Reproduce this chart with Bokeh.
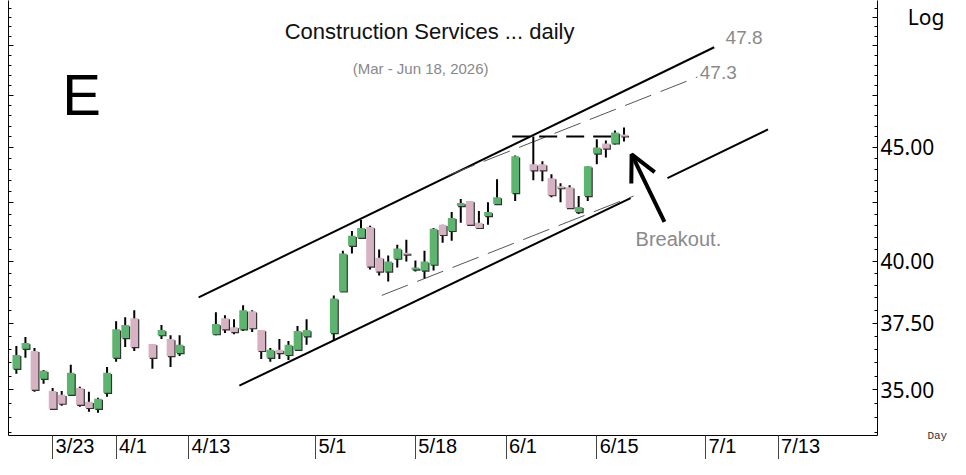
import math
from bokeh.plotting import figure
from bokeh.models import Range1d, FixedTicker, LogAxis, Label, Arrow, OpenHead, ColumnDataSource
from bokeh.embed import file_html
from bokeh.resources import INLINE

# ---- data (x = trading-day index) ----
day_idx = [0, 1, 2, 3, 4, 5, 6, 7, 8, 9, 10, 11, 12, 13, 15, 16, 17, 18,
           22, 23, 24, 25, 26, 27, 28, 29, 30, 31, 32, 35, 36, 37, 38, 39,
           40, 41, 42, 43, 44, 45, 46, 47, 48, 49, 50, 51, 52, 53, 55, 57,
           58, 59, 60, 61, 62, 63, 64, 65, 66, 67]
opens = [35.77, 36.52, 36.44, 35.40, 34.96, 34.82, 34.82, 35.07, 34.57, 34.32, 34.89, 36.18, 36.93, 37.70, 36.70, 37.04, 36.89, 36.36,
         37.08, 37.70, 37.35, 37.27, 37.97, 37.24, 36.18, 36.48, 36.29, 36.48, 37.00, 37.12, 38.76, 40.64, 40.98, 41.44,
         40.14, 39.57, 40.10, 40.35, 39.65, 39.61, 39.85, 41.53, 41.27, 42.35, 42.57, 41.62, 41.91, 42.44, 42.92, 44.22,
         44.22, 43.59, 43.23, 43.18, 42.09, 42.79, 44.72, 45.19, 45.19, 45.61]
highs = [36.63, 36.97, 36.55, 35.73, 35.07, 34.96, 35.92, 35.11, 34.93, 34.71, 35.84, 37.58, 37.74, 38.01, 36.70, 37.43, 37.04, 37.04,
         37.93, 37.81, 37.66, 38.21, 38.01, 37.24, 36.55, 36.89, 36.82, 37.39, 37.66, 38.60, 40.43, 41.27, 41.74, 41.49,
         40.48, 40.23, 40.68, 40.89, 40.02, 40.43, 41.40, 41.53, 42.09, 42.66, 42.57, 42.13, 42.52, 43.54, 44.63, 45.52,
         44.36, 43.77, 43.36, 43.27, 42.79, 44.13, 45.38, 45.33, 45.80, 45.94]
lows = [35.59, 36.18, 34.93, 35.22, 34.28, 34.43, 34.78, 34.39, 34.21, 34.18, 34.75, 36.03, 36.59, 36.44, 35.77, 36.89, 35.84, 36.25,
        37.04, 37.12, 37.08, 37.20, 37.16, 36.14, 36.03, 36.14, 36.10, 36.44, 36.67, 36.85, 38.76, 40.31, 40.93, 39.65,
        39.40, 39.16, 39.73, 39.98, 39.57, 39.28, 39.61, 40.77, 40.85, 41.62, 41.49, 41.36, 41.53, 42.39, 42.57, 43.50,
        43.45, 42.74, 42.52, 42.22, 42.00, 42.57, 44.22, 44.54, 45.14, 45.28]
closes = [36.29, 36.74, 35.00, 35.70, 34.32, 34.50, 35.62, 34.46, 34.35, 34.68, 35.62, 37.27, 37.43, 36.59, 36.18, 37.24, 36.25, 36.67,
          37.47, 37.27, 37.16, 38.01, 37.31, 36.44, 36.48, 36.36, 36.67, 37.20, 37.24, 38.48, 40.31, 41.06, 41.40, 39.77,
          39.57, 39.98, 40.52, 40.27, 39.73, 39.98, 41.36, 41.10, 41.83, 42.48, 41.53, 41.40, 42.09, 42.74, 44.59, 43.95,
          43.95, 42.83, 43.14, 42.26, 42.31, 44.13, 45.00, 44.95, 45.70, 45.52]

date_tick_idx = [4, 11, 19, 33, 44, 54, 64, 76, 84]
date_tick_labels = ["3/23", "4/1", "4/13", "5/1", "5/18", "6/1", "6/15", "7/1", "7/13"]
price_ticks = [35.0, 37.5, 40.0, 42.5, 45.0, 47.5, 50.0]
price_tick_labels = ["35.00", "37.50", "40.00", "", "45.00", "", ""]
scale_note_price = 51.5      # where the "Log" note sits on the price axis

# hand-drawn trend lines (day index, price)
upper_channel_x = [20.10, 76.95]
upper_channel_y = [38.52, 49.93]
lower_channel_a_x = [24.59, 67.73]
lower_channel_a_y = [35.15, 42.70]
lower_channel_b_x = [71.79, 82.88]
lower_channel_b_y = [43.59, 45.85]
upper_inner_x = [47.64, 75.08]
upper_inner_y = [43.72, 48.41]
lower_inner_x = [40.29, 68.06]
lower_inner_y = [38.60, 42.79]
resistance_x = [54.67, 65.65]
resistance_y = [45.52, 45.52]
arrow_from = (71.46, 41.66)
arrow_to = (67.84, 44.68)

# ---- figure ----
X0, X1 = -0.867, 94.95
p = figure(width=950, height=459, y_axis_type="log", y_axis_location="right",
           x_range=Range1d(X0, X1), y_range=Range1d(33.38, 52.41),
           output_backend="svg", toolbar_location=None,
           min_border_left=8, min_border_top=0, min_border_right=69, min_border_bottom=21)
p.outline_line_color = None
p.xgrid.visible = False
p.ygrid.visible = False
p.background_fill_color = "white"
p.border_fill_color = "white"

minor_prices = [33.5 + 0.5 * k for k in range(38)]

ry = p.yaxis[0]
ry.ticker = FixedTicker(ticks=price_ticks + [scale_note_price], minor_ticks=minor_prices)
overrides = dict(zip(price_ticks, price_tick_labels))
overrides[scale_note_price] = "\u00a0" * 5 + "Log"
ry.major_label_overrides = overrides
ry.major_tick_in = 5
ry.major_tick_out = 0
ry.minor_tick_in = 3
ry.minor_tick_out = 0
ry.major_label_standoff = 3
ry.major_label_text_font = "Noto Sans"
ry.major_label_text_font_size = "21px"
ry.major_label_text_color = "black"
ry.axis_line_color = "black"
ry.axis_label = "Day"
ry.axis_label_orientation = "horizontal"
ry.axis_label_align = "start"
ry.axis_label_standoff = -20
ry.axis_label_text_font = "Liberation Mono"
ry.axis_label_text_font_style = "normal"
ry.axis_label_text_font_size = "11px"
ry.axis_label_text_color = "#333333"

ly = LogAxis(ticker=FixedTicker(ticks=price_ticks, minor_ticks=minor_prices),
             major_label_overrides={t: "" for t in price_ticks},
             major_label_standoff=0, major_label_text_font_size="1px",
             major_tick_in=5, major_tick_out=0, minor_tick_in=3, minor_tick_out=0,
             axis_line_color="black")
p.add_layout(ly, "left")

# date labels sit just right of their separator line
lab_px = 20
def text_w(s):
    return sum(0.278 if ch == "/" else 0.556 for ch in s) * lab_px
day_px = 873.0 / (X1 - X0)
label_pos = [t + (3 + text_w(s) / 2) / day_px for t, s in zip(date_tick_idx, date_tick_labels)]

bx = p.xaxis[0]
bx.ticker = FixedTicker(ticks=label_pos, minor_ticks=date_tick_idx)
bx.major_label_overrides = dict(zip(label_pos, date_tick_labels))
bx.major_tick_in = 0
bx.major_tick_out = 0
bx.minor_tick_in = 0
bx.minor_tick_out = 34
bx.minor_tick_line_color = "#444444"
bx.major_label_standoff = -35
bx.major_label_text_font = "Liberation Sans"
bx.major_label_text_font_size = "%dpx" % lab_px
bx.major_label_text_color = "black"
bx.axis_line_color = "black"

# ---- trend lines ----
p.line(upper_channel_x, upper_channel_y, line_color="black", line_width=2)
p.line(lower_channel_a_x, lower_channel_a_y, line_color="black", line_width=2)
p.line(lower_channel_b_x, lower_channel_b_y, line_color="black", line_width=2)
p.line(upper_inner_x, upper_inner_y, line_color="#555555", line_width=1, line_dash="28 10")
p.line(lower_inner_x, lower_inner_y, line_color="#555555", line_width=1, line_dash="28 10")
p.line(resistance_x, resistance_y, line_color="black", line_width=2, line_dash="18 9")

# ---- candles ----
px = 1.0 / 971.0
up = [c >= o for o, c in zip(opens, closes)]
tops = [max(o, c) for o, c in zip(opens, closes)]
bots = [min(o, c) for o, c in zip(opens, closes)]
src = ColumnDataSource(dict(
    x=day_idx, high=highs, low=lows, top=tops, bottom=bots,
    sx=[i + 0.13 for i in day_idx],
    stop=[t * math.exp(-1.2 * px) for t in tops],
    sbot=[b * math.exp(-1.2 * px) for b in bots],
    color=["#5cb46e" if u else "#d6b2c3" for u in up],
))
p.segment(x0="x", y0="low", x1="x", y1="high", source=src, line_color="black", line_width=2)
p.vbar(x="sx", top="stop", bottom="sbot", width=0.85, source=src, fill_color="#333333", line_color=None)
p.vbar(x="x", top="top", bottom="bottom", width=0.85, source=src, fill_color="color", line_color=None)

# ---- arrow ----
p.add_layout(Arrow(end=OpenHead(size=26, line_width=4, line_color="black"),
                   x_start=arrow_from[0], y_start=arrow_from[1], x_end=arrow_to[0], y_end=arrow_to[1],
                   line_width=4, line_color="black"))

# ---- texts ----
def add_text(x, y, text, size, color="black", font="Liberation Sans", align="left", baseline="middle"):
    p.add_layout(Label(x=x, y=y, text=text, text_font=font, text_font_size=size,
                       text_color=color, text_align=align, text_baseline=baseline))

add_text(45.56, 50.76, "Construction Services ... daily", "22px", "#111111", align="center")
add_text(44.57, 48.86, "(Mar - Jun 18, 2026)", "15px", "#888888", align="center")
add_text(5.06, 47.52, "E", "58px", "black", baseline="alphabetic")
add_text(80.24, 50.45, "47.8", "19px", "#8a8a8a", align="center")
add_text(77.39, 48.66, "47.3", "19px", "#8a8a8a", align="center")
add_text(68.28, 40.93, "Breakout.", "20px", "#8a8a8a")

open("out.html", "w").write(file_html(p, INLINE))
